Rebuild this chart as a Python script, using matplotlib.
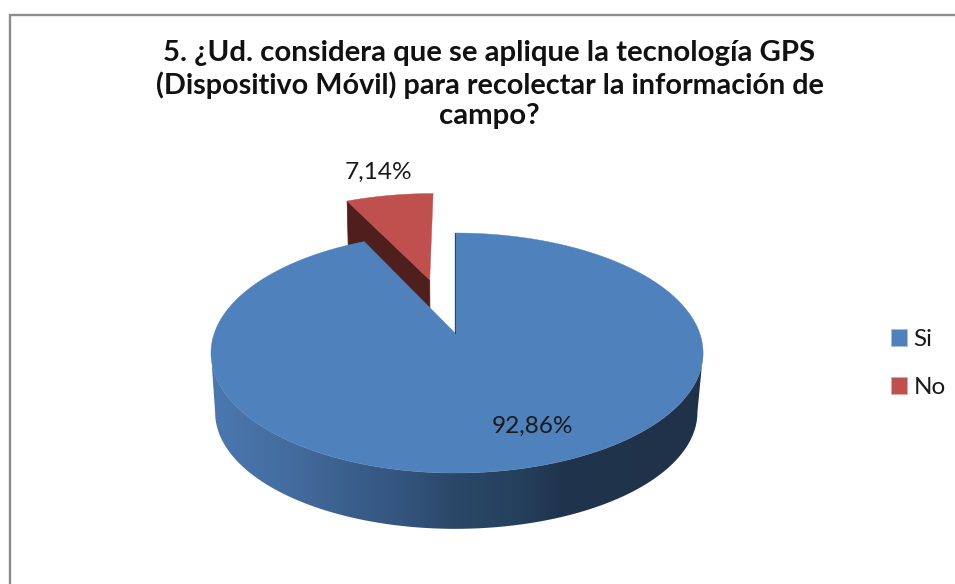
import numpy as np
import matplotlib
matplotlib.use("Agg")
import matplotlib.pyplot as plt
from matplotlib.patches import Polygon, Patch
from matplotlib.colors import LinearSegmentedColormap

title_lines = ["5. ¿Ud. considera que se aplique la tecnología GPS",
               "(Dispositivo Móvil) para recolectar la información de",
               "campo?"]
categories = ["Si", "No"]
values = [92.86, 7.14]
value_labels = ["92,86%", "7,14%"]
explode_no = 0.505

BLUE, RED, DARK_RED = "#4f81bd", "#c0504d", "#4f1f1d"
wall_x = [212, 300, 350, 400, 450, 520, 560, 704]
wall_c = ["#4a78b0", "#436a9b", "#3a5f8c", "#34557e", "#2b4869", "#25405c", "#20344d", "#1f3249"]

plt.rcParams["font.family"] = ["Lato", "DejaVu Sans"]
fig = plt.figure(figsize=(9.55, 5.84), dpi=100)
ax = fig.add_axes([0, 0, 1, 1])
ax.set_xlim(0, 955)
ax.set_ylim(584, 0)
ax.axis("off")

# perspective projection of the pie plane
CX, K = 455.0, 1 / 6
def project(u, v, level=0, sx=None):
    u, v = np.asarray(u, float), np.asarray(v, float)
    den = 1 + K * v
    if level == 0:
        scale = np.where(u < 0, 240.6, 244.6) if sx is None else sx
        return CX + scale * u / den, 333 - 116.67 * v / den
    scale = np.where(u < 0, 236.5, 239.0) if sx is None else sx
    return CX + scale * u / den, 393 - 113.2 * v / den

def ring(a0, a1, n=240):
    t = np.radians(np.linspace(a0, a1, n))
    return np.sin(t), np.cos(t)

total = sum(values)
span_si = 360 * values[0] / total
mid_no = span_si + 180 * values[1] / total
# red slice, exploded along its bisector
ox, oy = explode_no * np.sin(np.radians(mid_no)), explode_no * np.cos(np.radians(mid_no))
u, v = ring(span_si, 360, 40)
top_pts = np.column_stack(project(np.r_[ox, u + ox], np.r_[oy, v + oy], sx=243.5))
left_u, left_v = u[0] + ox, v[0] + oy
side = [project(left_u, left_v, sx=243.5), project(ox, oy, sx=243.5),
        project(ox, oy, 1, sx=240), project(left_u, left_v, 1, sx=240)]
ax.add_patch(Polygon(side, closed=True, fc=DARK_RED, ec=DARK_RED, lw=0.5, zorder=2))
ax.add_patch(Polygon(top_pts, closed=True, fc=RED, ec=RED, lw=0.3, zorder=3))

# blue wall: horizontal gradient clipped to the silhouette of the wall
cmap = LinearSegmentedColormap.from_list(
    "wall", [((x - wall_x[0]) / (wall_x[-1] - wall_x[0]), c) for x, c in zip(wall_x, wall_c)])
silhouette = np.degrees(np.arccos(-K))
u, v = ring(silhouette, 360 - silhouette, 480)
tx, ty = project(u, v)
bx, by = project(u, v, 1)
outline = Polygon(np.r_[np.column_stack((tx, ty)), np.column_stack((bx, by))[::-1]], closed=True,
                  fc="none", ec="none", transform=ax.transData)
ax.add_patch(outline)
grad = ax.imshow(np.linspace(0, 1, 512).reshape(1, -1), cmap=cmap, vmin=0, vmax=1, aspect="auto",
                 extent=(wall_x[0], wall_x[-1], 540, 340), interpolation="bilinear", zorder=4)
grad.set_clip_path(outline)
ax.set_xlim(0, 955)
ax.set_ylim(584, 0)

# blue top
u, v = ring(0, span_si, 600)
ax.add_patch(Polygon(np.column_stack(project(np.r_[0, u], np.r_[0, v])), closed=True,
                     fc=BLUE, ec=BLUE, lw=0.3, zorder=5))
x0, y0 = project(0, 0)
x1, y1 = project(0, 1)
ax.plot([x0, x1], [y0, y1], color="#2b4869", lw=0.7, zorder=5)

# frame (cropped at the right and bottom)
ax.plot([9.7, 9.7, 955], [584, 15.2, 15.2], color="#8c8c8c", lw=1.7, solid_joinstyle="miter", zorder=1)

for line, y, size in zip(title_lines, (53, 85, 116), (21.2, 20.7, 21.2)):
    ax.text(489.5, y, line, ha="center", va="center", fontsize=size, fontweight="bold",
            color="#111111", zorder=7)
ax.text(532.5, 426, value_labels[0], ha="center", va="center", fontsize=17.6, color="#1a1a1a", zorder=7)
ax.text(378.5, 172, value_labels[1], ha="center", va="center", fontsize=17.6, color="#1a1a1a", zorder=7)

handles = [Patch(fc=BLUE, ec="#a9c0dc", lw=0.5), Patch(fc=RED, ec="#dca9a8", lw=0.5)]
ax.legend(handles, categories, loc="center left", bbox_to_anchor=(891, 363.5), bbox_transform=ax.transData,
          frameon=False, fontsize=17.5, labelcolor="#1a1a1a", handlelength=0.66, handleheight=0.66,
          handletextpad=0.26, labelspacing=1.1, borderpad=0, borderaxespad=0)

fig.savefig("out.png", dpi=100, facecolor="white")
